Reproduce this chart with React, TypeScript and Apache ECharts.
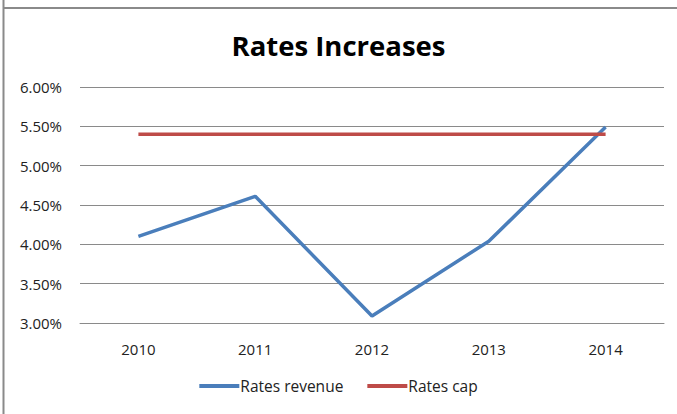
import React, { useEffect, useRef } from "react";
import * as echarts from "echarts";

const categories = ["2010", "2011", "2012", "2013", "2014"];
const ratesRevenue = [4.1, 4.61, 3.09, 4.04, 5.49];
const ratesCap = [5.4, 5.4, 5.4, 5.4, 5.4];
const yTicks = [3.0, 3.5, 4.0, 4.5, 5.0, 5.5, 6.0];

const FONT = "'Open Sans', Lato, sans-serif";

export default function App() {
  const ref = useRef<HTMLDivElement>(null);
  useEffect(() => {
    if (!ref.current) return;
    const chart = echarts.init(ref.current, undefined, { renderer: "svg" });
    chart.setOption({
      animation: false,
      backgroundColor: "#ffffff",
      textStyle: { fontFamily: FONT },
      title: {
        text: "Rates Increases",
        left: "center",
        top: 26,
        itemGap: 0,
        textStyle: { fontFamily: FONT, fontWeight: "bold", fontSize: 27.5, color: "#000000" },
      },
      graphic: [
        { type: "line", shape: { x1: 3.5, y1: 0, x2: 3.5, y2: 414 }, style: { stroke: "#8a8a8a", lineWidth: 2 } },
        { type: "line", shape: { x1: 3, y1: 8, x2: 677, y2: 8 }, style: { stroke: "#8a8a8a", lineWidth: 2 } },
      ],
      legend: {
        bottom: 15,
        left: "center",
        itemWidth: 40,
        itemHeight: 4,
        itemGap: 24,
        icon: "rect",
        textStyle: { fontFamily: FONT, fontSize: 15.5, color: "#222222", padding: [0, 0, 0, -4] },
        data: ["Rates revenue", "Rates cap"],
      },
      grid: { left: 80, right: 13, top: 87, bottom: 91, containLabel: false },
      xAxis: {
        type: "category",
        data: categories,
        boundaryGap: true,
        axisLine: { show: true, lineStyle: { color: "#8a8a8a", width: 1 } },
        axisTick: { show: false },
        axisLabel: { margin: 18, fontFamily: FONT, fontSize: 15, color: "#222222" },
      },
      yAxis: {
        type: "value",
        min: yTicks[0],
        max: yTicks[yTicks.length - 1],
        interval: 0.5,
        axisLine: { show: false },
        axisTick: { show: false },
        splitLine: { lineStyle: { color: "#8a8a8a", width: 1 } },
        axisLabel: {
          margin: 18,
          fontFamily: FONT,
          fontSize: 15,
          color: "#222222",
          formatter: (v: number) => v.toFixed(2) + "%",
        },
      },
      series: [
        {
          name: "Rates revenue",
          type: "line",
          data: ratesRevenue,
          symbol: "none",
          lineStyle: { color: "#4A7EBB", width: 3.5 },
          itemStyle: { color: "#4A7EBB" },
          z: 2,
        },
        {
          name: "Rates cap",
          type: "line",
          data: ratesCap,
          symbol: "none",
          lineStyle: { color: "#BE4B48", width: 3.5 },
          itemStyle: { color: "#BE4B48" },
          z: 3,
        },
      ],
    });
    return () => chart.dispose();
  }, []);
  return <div ref={ref} style={{ width: 677, height: 414, position: "absolute", left: 0, top: 0 }} />;
}
